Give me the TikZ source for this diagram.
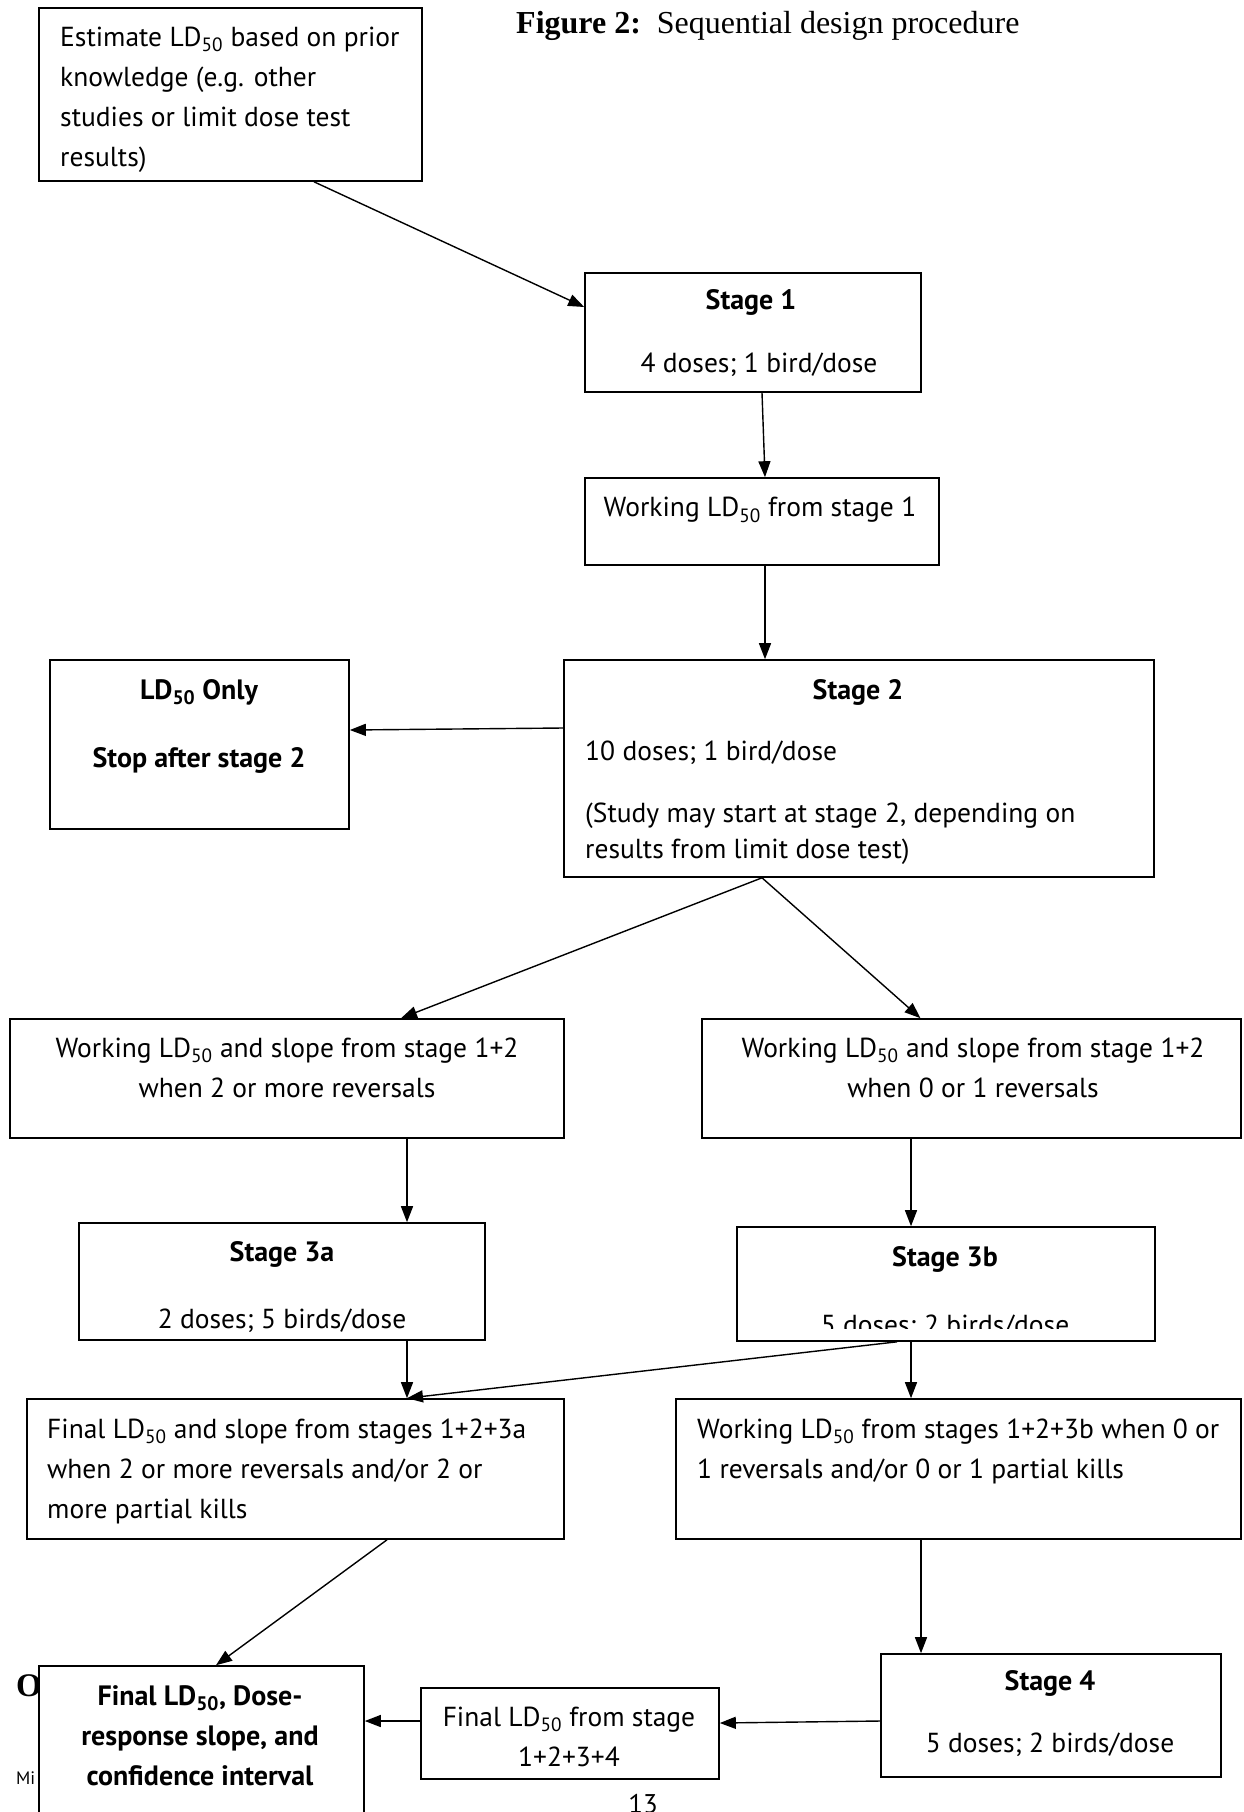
\documentclass[tikz,border=0pt]{standalone}
\usepackage{fontspec}
\setmainfont{PT Sans}
\newfontfamily\timesfont{Liberation Serif}
\usetikzlibrary{arrows.meta,calc}
\newcommand{\ldf}{LD\textsubscript{50}}
\begin{document}
\begin{tikzpicture}[x=1pt,y=-1pt,
  box/.style={draw,line width=1.6pt,fill=white,inner sep=0pt},
  txt/.style={inner sep=0pt,font=\fontsize{27.5}{40}\selectfont},
  btxt/.style={inner sep=0pt,font=\fontsize{28}{40}\selectfont\bfseries},
  arr/.style={line width=1.4pt,-{Triangle[length=16pt,width=12pt]}}]
\clip (0,0) rectangle (1243,1812);
\fill[white] (0,0) rectangle (1243,1812);

% background page text partly hidden
\node[inner sep=0pt,anchor=west,font=\timesfont\fontsize{33}{34}\selectfont\bfseries] (pO) at (16,1686) {O};
\node[inner sep=0pt,anchor=west,font=\fontsize{18}{20}\selectfont] (pMi) at (16,1778) {Mi};
\node[inner sep=0pt,anchor=base,font=\fontsize{27}{30}\selectfont] (pnum) at (643,1813) {13};

% title
\node[inner sep=0pt,anchor=west,font=\timesfont\fontsize{32}{34}\selectfont] (title) at (516,26) {\textbf{Figure 2:}\ \ Sequential design procedure};

% boxes
\node[box,minimum width=383pt,minimum height=173pt] (A) at (230.5,94.5) {};
\node[box,minimum width=336pt,minimum height=119pt] (S1) at (753,332.5) {};
\node[box,minimum width=354pt,minimum height=87pt] (W1) at (762,521.5) {};
\node[box,minimum width=590pt,minimum height=217pt] (S2) at (859,768.5) {};
\node[box,minimum width=299pt,minimum height=169pt] (LDO) at (199.5,744.5) {};
\node[box,minimum width=554pt,minimum height=119pt] (WL) at (287,1078.5) {};
\node[box,minimum width=539pt,minimum height=119pt] (WR) at (971.5,1078.5) {};
\node[box,minimum width=406pt,minimum height=117pt] (S3a) at (282,1281.5) {};
\node[box,minimum width=418pt,minimum height=114pt] (S3b) at (946,1284) {};
\node[box,minimum width=537pt,minimum height=140pt] (FL) at (295.5,1469) {};
\node[box,minimum width=565pt,minimum height=140pt] (WR3) at (958.5,1469) {};
\node[box,minimum width=340pt,minimum height=123pt] (S4) at (1051,1715.5) {};
\node[box,minimum width=298pt,minimum height=91pt] (F1234) at (570,1733.5) {};
\node[box,minimum width=325pt,minimum height=184pt] (FB) at (201.5,1758) {};

% texts
\node[txt,anchor=north west,align=left] (tA) at (60,27) {Estimate \ldf{} based on prior\\knowledge (e.g. other\\studies or limit dose test\\results)};
\node[btxt] (tS1a) at (751,302) {Stage 1};
\node[txt] (tS1b) at (759,365) {4 doses; 1 bird/dose};
\node[txt] (tW1) at (760,510) {Working \ldf{} from stage 1};
\node[btxt] (tS2a) at (858,692) {Stage 2};
\node[txt,anchor=west] (tS2b) at (585,753) {10 doses; 1 bird/dose};
\node[txt,anchor=north west,align=left,font=\fontsize{27.5}{36}\selectfont] (tS2c) at (585,803) {(Study may start at stage 2, depending on\\results from limit dose test)};
\node[btxt] (tLa) at (199,692) {\ldf{} Only};
\node[btxt] (tLb) at (199,760) {Stop after stage 2};
\node[txt,anchor=north,align=center] (tWL) at (287,1038) {Working \ldf{} and slope from stage 1+2\\when 2 or more reversals};
\node[txt,anchor=north,align=center] (tWR) at (973,1038) {Working \ldf{} and slope from stage 1+2\\when 0 or 1 reversals};
\node[btxt] (tS3aa) at (282,1254) {Stage 3a};
\node[txt] (tS3ab) at (282,1321) {2 doses; 5 birds/dose};
\node[btxt] (tS3ba) at (945,1259) {Stage 3b};
\begin{scope}
\clip (737,1227) rectangle (1155,1328);
\node[txt] (tS3bb) at (945,1327) {5 doses; 2 birds/dose};
\end{scope}
\node[txt,anchor=north west,align=left] (tFL) at (47,1419) {Final \ldf{} and slope from stages 1+2+3a\\when 2 or more reversals and/or 2 or\\more partial kills};
\node[txt,anchor=north west,align=left] (tWR3) at (697,1419) {Working \ldf{} from stages 1+2+3b when 0 or\\1 reversals and/or 0 or 1 partial kills};
\node[btxt] (tS4a) at (1050,1683) {Stage 4};
\node[txt] (tS4b) at (1050,1745) {5 doses; 2 birds/dose};
\node[txt,anchor=north,align=center] (tF1234) at (569,1707) {Final \ldf{} from stage\\1+2+3+4};
\node[btxt,anchor=north,align=center] (tFB) at (200,1685) {Final \ldf{}, Dose-\\response slope, and\\confidence interval};

% connectors
\draw[arr] ([xshift=83.5pt]A.south) -- ([yshift=25.5pt]S1.west);
\draw[arr] ([xshift=9pt]S1.south) -- ([xshift=3pt]W1.north);
\draw[arr] ([xshift=3pt]W1.south) -- ([xshift=-94pt]S2.north);
\draw[arr] ([yshift=40.5pt]S2.west) -- ([yshift=14.5pt]LDO.east);
\draw[arr] ([xshift=-97pt]S2.south) -- ([xshift=114pt]WL.north);
\draw[arr] ([xshift=-97pt]S2.south) -- ([xshift=-51pt]WR.north);
\draw[arr] ([xshift=120pt]WL.south) -- ([xshift=125pt]S3a.north);
\draw[arr] ([xshift=-60.5pt]WR.south) -- ([xshift=-35pt]S3b.north);
\draw[arr] ([xshift=125pt]S3a.south) -- ([xshift=111.5pt]FL.north);
\draw[arr] ([xshift=-49pt]S3b.south) -- ([xshift=111.5pt]FL.north);
\draw[arr] ([xshift=-35pt]S3b.south) -- ([xshift=-47.5pt]WR3.north);
\draw[arr] ([xshift=91.5pt]FL.south) -- ([xshift=14.5pt]FB.north);
\draw[arr] ([xshift=-37.5pt]WR3.south) -- ([xshift=-130pt]S4.north);
\draw[arr] ([yshift=-5.5pt]S4.west) -- ([yshift=10.5pt]F1234.east);
\draw[arr] ([yshift=12.5pt]F1234.west) -- ([yshift=37pt]FB.east);
\end{tikzpicture}
\end{document}
